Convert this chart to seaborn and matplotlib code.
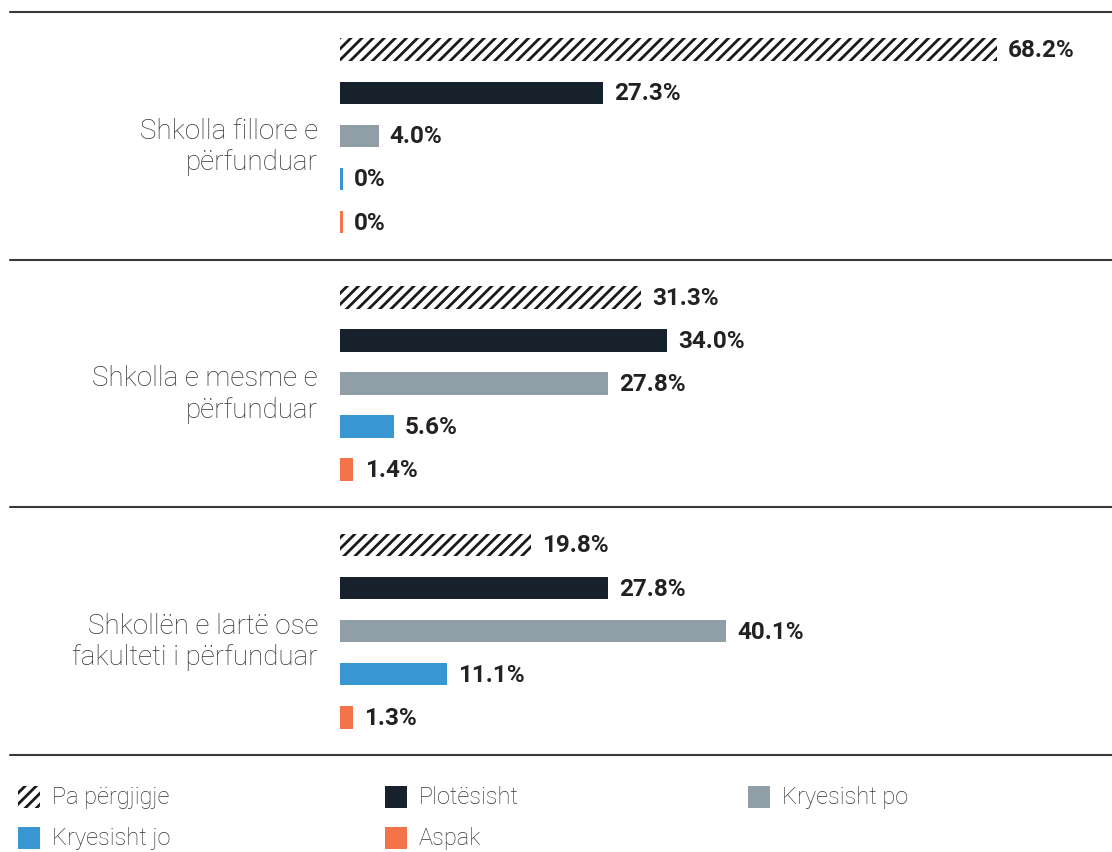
import matplotlib

matplotlib.use("Agg")
import matplotlib.pyplot as plt  # noqa: E402
import numpy as np  # noqa: E402
import pandas as pd  # noqa: E402
import seaborn as sns  # noqa: E402
from matplotlib.patches import Rectangle  # noqa: E402
from matplotlib.transforms import offset_copy  # noqa: E402

groups = [
    "Shkolla fillore e\npërfunduar",
    "Shkolla e mesme e\npërfunduar",
    "Shkollën e lartë ose\nfakulteti i përfunduar",
]
responses = ["Pa përgjigje", "Plotësisht", "Kryesisht po", "Kryesisht jo", "Aspak"]
pa_pergjigje = [68.2, 31.3, 19.8]
plotesisht = [27.3, 34.0, 27.8]
kryesisht_po = [4.0, 27.8, 40.1]
kryesisht_jo = [0.0, 5.6, 11.1]
aspak = [0.0, 1.4, 1.3]
colors = ["#ffffff", "#17212b", "#909ea7", "#3896d3", "#f37448"]

series = [pa_pergjigje, plotesisht, kryesisht_po, kryesisht_jo, aspak]
rows = []
for resp, vals in zip(responses, series):
    for g, v in zip(groups, vals):
        rows.append({"group": g, "response": resp, "value": v})
df = pd.DataFrame(rows)
# zero values still show as a thin sliver
df["shown"] = np.maximum(df["value"], 0.3)

W, H = 1112, 853
sns.set_style("white")
plt.rcParams["font.family"] = ["Roboto", "DejaVu Sans"]
plt.rcParams["hatch.linewidth"] = 2.0

fig = plt.figure(figsize=(W / 100, H / 100), dpi=100)
ax = fig.add_axes([340 / W, (H - 756) / H, (W - 340) / W, 743 / H])

sns.barplot(
    data=df, y="group", x="shown", hue="response", orient="h",
    hue_order=responses, palette=colors, saturation=1,
    width=0.87, gap=0.48, legend=False, ax=ax,
)

for cont, resp, vals in zip(ax.containers, responses, series):
    for p in cont:
        p.set_linewidth(0)
        if resp == "Pa përgjigje":
            p.set_hatch("///")
            p.set_edgecolor("#1a1a1a")
    labels = ["0%" if v == 0 else f"{v:.1f}%" for v in vals]
    ax.bar_label(cont, labels=labels, padding=8, fontsize=17.5,
                 fontweight="bold", color="#222222")

ax.set_xlim(0, (W - 340) / 9.63)
ax.set_ylim(2.5, -0.5)
ax.set_xlabel("")
ax.set_ylabel("")
ax.set_xticks([])
ax.set_yticks([])
sns.despine(ax=ax, left=True, bottom=True)

# group names, right aligned left of the bars, nudged a little below centre
name_tr = offset_copy(ax.get_yaxis_transform(), fig=fig, x=-22, y=-10, units="dots")
for i, g in enumerate(groups):
    ax.text(0, i, g, transform=name_tr, ha="right", va="center",
            fontsize=20, fontweight="light", color="#333333", linespacing=1.2)

x0 = (10 - 340) / (W - 340)
for yv in [-0.5, 0.5, 1.5, 2.5]:
    ax.axhline(yv, xmin=x0, xmax=1, color="#3a3a3a", lw=1.5, clip_on=False)

# legend drawn by hand in figure pixels
legend_pos = [(18, 798), (385, 798), (748, 798), (18, 839), (385, 839)]
for resp, col, (lx, ly) in zip(responses, colors, legend_pos):
    rect = Rectangle((lx / W, (H - ly - 11) / H), 22 / W, 22 / H,
                     transform=fig.transFigure, facecolor=col, linewidth=0)
    if resp == "Pa përgjigje":
        rect.set_hatch("///")
        rect.set_edgecolor("#1a1a1a")
    fig.add_artist(rect)
    fig.text((lx + 34) / W, (H - ly) / H, resp, fontsize=17, fontweight="light",
             color="#333333", va="center", ha="left")

fig.savefig("out.png", dpi=100)
